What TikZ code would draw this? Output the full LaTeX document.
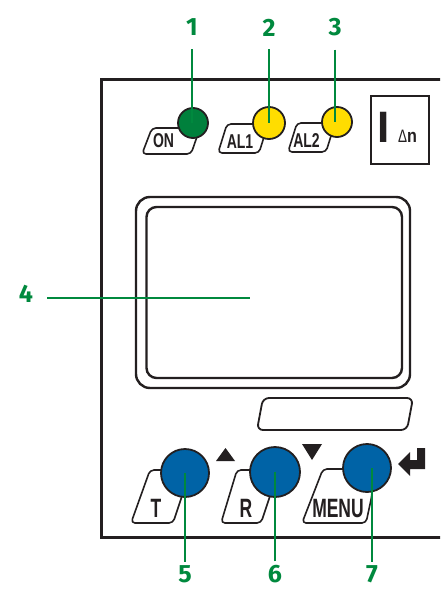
\documentclass[tikz,border=0pt]{standalone}
\usepackage{graphicx}
\usepackage{fontspec}
\setmainfont{Liberation Sans}
\newfontfamily\numfont{Fira Sans}

% horizontally condensed lettering for the panel legends
\newcommand{\narrowtext}[2]{\scalebox{#1}[1]{#2}}

\definecolor{inkc}{RGB}{35,31,32}
\definecolor{callgreen}{RGB}{0,137,62}
\definecolor{ledgreen}{RGB}{0,128,60}
\definecolor{ledyellow}{RGB}{255,221,0}
\definecolor{btnblue}{RGB}{0,99,166}

\tikzset{
  frame/.style={draw=inkc, line width=3pt},
  panel/.style={draw=inkc, line width=2.4pt},
  tab/.style={draw=inkc, fill=white, line width=1.6pt, rounded corners=4pt, line join=round},
  led/.style={circle, draw=inkc, line width=1.8pt, inner sep=0pt, minimum size=30pt},
  button/.style={circle, draw=inkc, fill=btnblue, line width=1.8pt, inner sep=0pt, minimum size=48pt},
  ledtext/.style={font=\fontsize{20}{20}\selectfont\bfseries, text=inkc, inner sep=0pt, anchor=base},
  btntext/.style={font=\fontsize{26.5}{26.5}\selectfont\bfseries, text=inkc, inner sep=0pt, anchor=base},
  num/.style={font=\fontsize{25}{25}\selectfont\numfont\bfseries, text=callgreen, inner sep=0pt},
  leader/.style={draw=callgreen, line width=2pt},
  glyph/.style={fill=inkc, draw=none}
}

\begin{document}
\begin{tikzpicture}[x=1pt,y=-1pt]
\clip (0,0) rectangle (440,593);
\fill[white] (0,0) rectangle (440,593);

% housing outline (runs off the right edge)
\draw[frame] (470,80) -- (101,80) -- (101,537) -- (470,537);

% indicator tabs
\draw[tab] (152,128) -- (142,154) -- (191,154) -- (200,128) -- cycle;
\draw[tab] (227,124) -- (218,153) -- (259,153) -- (268,124) -- cycle;
\draw[tab] (297,123) -- (288,152) -- (326,152) -- (335,123) -- cycle;
\node[ledtext] (tON) at (163.5,148) {\narrowtext{0.7}{ON}};
\node[ledtext] (tAL1) at (240,149) {\narrowtext{0.7}{AL1}};
\node[ledtext] (tAL2) at (306.5,148) {\narrowtext{0.7}{AL2}};

% LEDs
\node[led, fill=ledgreen] (on) at (193,123) {};
\node[led, fill=ledyellow, minimum size=32pt] (al1) at (269,123) {};
\node[led, fill=ledyellow] (al2) at (337,122) {};

% residual current symbol
\node[draw=inkc, line width=2.4pt, minimum width=58pt, minimum height=68pt, inner sep=0pt] (ibox) at (400,130) {};
\node[font=\fontsize{44}{44}\selectfont\bfseries, text=inkc, inner sep=0pt, anchor=base] (bigI) at (384,143) {I};
\node[inner sep=0pt, anchor=base west, text=inkc] (dn) at (398,143)
  {\narrowtext{0.75}{\fontsize{18}{18}\selectfont Δ}\narrowtext{0.85}{\fontsize{19}{19}\selectfont\bfseries n}};

% display window
\draw[panel, rounded corners=14pt] (136,197) rectangle (410,388);
\draw[panel, rounded corners=10pt] (146.5,207) rectangle (402,378);
\coordinate (disp) at (250,298);

% label field under the display
\draw[tab, line width=1.8pt, rounded corners=6pt] (263,398) -- (413,398) -- (407,430) -- (257,430) -- cycle;

% key tabs
\draw[tab] (150,470) -- (131,523) -- (173,523) -- (184,490) -- (184,470) -- cycle;
\draw[tab] (237,470) -- (221,523) -- (261,523) -- (272,490) -- (272,470) -- cycle;
\draw[tab] (323,469) -- (302,523) -- (366,523) -- (372,495) -- (372,469) -- cycle;
\node[btntext] (tT) at (156,517) {\narrowtext{0.66}{T}};
\node[btntext] (tR) at (246,517) {\narrowtext{0.66}{R}};
\node[btntext] (tMENU) at (338,517) {\narrowtext{0.66}{MENU}};

% keys
\node[button] (keyT) at (185,473) {};
\node[button, minimum size=50pt] (keyR) at (275,472) {};
\node[button] (keyM) at (367,468) {};

% key symbols
\fill[glyph] (216,461) -- (235,461) -- (225.5,448) -- cycle;
\fill[glyph] (302,444) -- (322,444) -- (312,460) -- cycle;
\fill[glyph] (417,448) -- (425,448) -- (425,469) -- (410,469) -- (410,476)
  -- (398,464) -- (410,452) -- (410,460) -- (417,460) -- cycle;

% callout numbers
\node[num] (l1) at (192,27.5) {1};
\node[num] (l2) at (269,27.5) {2};
\node[num] (l3) at (335,27.5) {3};
\node[num] (l4) at (26,294) {4};
\node[num] (l5) at (185,574) {5};
\node[num] (l6) at (275,574) {6};
\node[num] (l7) at (372,574) {7};

% callout leaders
\draw[leader, shorten <=13pt] (l1.south) -- (l1.south |- on.center);
\draw[leader, shorten <=13pt] (l2.south) -- (l2.south |- al1.center);
\draw[leader, shorten <=13pt] (l3.south) -- (l3.south |- al2.center);
\draw[leader, shorten <=14pt] (l4.east |- disp) -- (disp);
\draw[leader, shorten <=3.5pt] (l5.north) -- (l5.north |- keyT.center);
\draw[leader, shorten <=3.5pt] (l6.north) -- (l6.north |- keyR.center);
\draw[leader, shorten <=3.5pt] (l7.north) -- (l7.north |- keyM.center);
\end{tikzpicture}
\end{document}
